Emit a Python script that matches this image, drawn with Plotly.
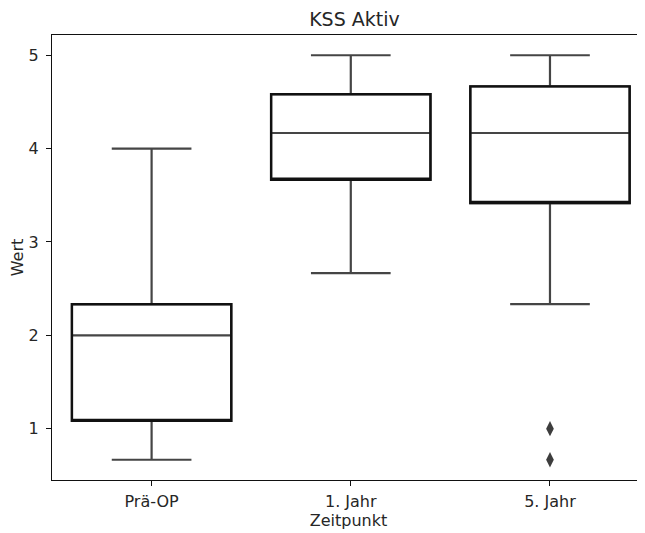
import plotly.graph_objects as go

categories = ["Prä-OP", "1. Jahr", "5. Jahr"]
q1_vals = [1.083, 3.667, 3.417]
median_vals = [2.0, 4.167, 4.167]
q3_vals = [2.333, 4.583, 4.667]
lower_vals = [0.667, 2.667, 2.333]
upper_vals = [4.0, 5.0, 5.0]
outlier_x = ["5. Jahr", "5. Jahr"]
outlier_y = [1.0, 0.667]
y_ticks = [1, 2, 3, 4, 5]

font_family = "DejaVu Sans"
text_color = "#262626"

# the page body has a default 8px margin, so the figure is drawn 8px smaller
W, H = 637, 525

fig = go.Figure()

# full box (whiskers, median) in dark grey
fig.add_trace(go.Box(
    x=categories,
    q1=q1_vals, median=median_vals, q3=q3_vals,
    lowerfence=lower_vals, upperfence=upper_vals,
    width=0.8, whiskerwidth=0.5,
    fillcolor="white",
    line=dict(color="#454545", width=2.2),
    boxpoints=False,
    showlegend=False, hoverinfo="skip",
))
# box outline in near-black
fig.add_trace(go.Box(
    x=categories,
    q1=q1_vals, median=q1_vals, q3=q3_vals,
    lowerfence=q1_vals, upperfence=q3_vals,
    width=0.8, whiskerwidth=0.0,
    fillcolor="rgba(0,0,0,0)",
    line=dict(color="#111111", width=2.4),
    boxpoints=False,
    showlegend=False, hoverinfo="skip",
))
# outliers
fig.add_trace(go.Scatter(
    x=outlier_x, y=outlier_y, mode="markers",
    marker=dict(symbol="diamond-tall", size=11, color="#3d3d3d",
                line=dict(width=0)),
    showlegend=False, hoverinfo="skip",
))

fig.update_layout(
    width=W, height=H,
    margin=dict(l=44, r=0, t=27, b=53),
    paper_bgcolor="white", plot_bgcolor="white",
    font=dict(family=font_family, size=16, color=text_color),
    title=dict(text="KSS Aktiv", x=0.51, xref="paper", xanchor="center",
               y=1 - 18 / H, yref="container", yanchor="bottom",
               font=dict(size=19, color=text_color, family=font_family)),
    boxmode="overlay",
)
fig.update_xaxes(
    type="category", categoryorder="array", categoryarray=categories,
    range=[-0.5, 2.477],
    showline=True, linecolor="#111111", linewidth=1.3, mirror=True,
    ticks="outside", ticklen=5, tickcolor="#111111", tickwidth=1.2,
    ticklabelstandoff=2,
    showgrid=False, zeroline=False,
    tickfont=dict(size=16, color=text_color),
    title=dict(text="Zeitpunkt", font=dict(size=16, color=text_color), standoff=4),
)
fig.update_yaxes(
    range=[0.45, 5.217],
    tickvals=y_ticks, ticktext=[str(v) for v in y_ticks],
    showline=True, linecolor="#111111", linewidth=1.3, mirror=False,
    ticks="outside", ticklen=5, tickcolor="#111111", tickwidth=1.2,
    ticklabelstandoff=4,
    showgrid=False, zeroline=False,
    tickfont=dict(size=16, color=text_color),
    title=dict(text="Wert", font=dict(size=16, color=text_color), standoff=6),
)

fig.write_html("out.html")
